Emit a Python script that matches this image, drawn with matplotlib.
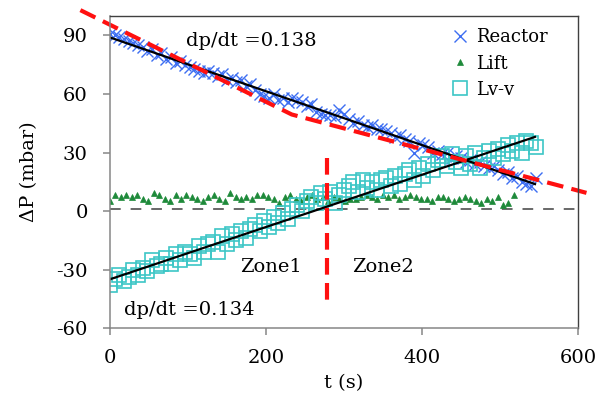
import numpy as np
import matplotlib
matplotlib.use("Agg")
import matplotlib.pyplot as plt

plt.rcParams['font.family'] = ['DejaVu Serif']
plt.rcParams['axes.unicode_minus'] = False

# reactor pressure drop (mbar) vs time (s)
t_reactor = [0, 6, 12, 18, 24, 30, 36, 42, 48, 54, 60, 66, 72, 78, 84, 90, 96, 102, 108,
             114, 120, 126, 132, 138, 144, 150, 156, 162, 168, 174, 180, 186, 192, 198,
             204, 210, 216, 222, 228, 234, 240, 246, 252, 258, 264, 270, 276, 282, 288,
             294, 300, 306, 312, 318, 324, 330, 336, 342, 348, 354, 360, 366, 372, 378,
             384, 390, 396, 402, 408, 414, 420, 426, 432, 438, 444, 450, 456, 462, 468,
             474, 480, 486, 492, 498, 504, 510, 516, 522, 528, 534, 540, 546]
p_reactor = [91, 90, 89, 88, 87, 86, 85, 84, 82, 83, 80, 81, 78, 79, 76, 77, 75, 74, 73,
             72, 71, 72, 71, 69, 70, 67, 68, 66, 67, 64, 65, 62, 60, 59,
             58, 60, 57, 58, 56, 58, 57, 56, 54, 55, 51, 50, 49, 49, 48,
             52, 50, 47, 45, 46, 44, 43, 44, 42, 42, 41, 40, 38, 39, 37,
             36, 30, 35, 34, 33, 30, 31, 29, 30, 27, 28, 27, 25, 26, 24,
             25, 23, 22, 23, 21, 19, 20, 17, 18, 15, 14, 13, 17]

t_lift = [0, 7, 14, 21, 28, 35, 42, 49, 56, 63, 70, 77, 84, 91, 98, 105, 112, 119, 126,
          133, 140, 147, 154, 161, 168, 175, 182, 189, 196, 203, 210, 217, 224, 231, 238,
          245, 252, 259, 266, 273, 280, 287, 294, 301, 308, 315, 322, 329, 336, 343, 350,
          357, 364, 371, 378, 385, 392, 399, 406, 413, 420, 427, 434, 441, 448, 455, 462,
          469, 476, 483, 490, 497, 504, 511, 518]
p_lift = [5, 8, 7, 8, 7, 8, 6, 5, 9, 8, 6, 5, 8, 6, 8, 7, 6, 5, 7,
          8, 6, 5, 9, 7, 6, 7, 6, 8, 8, 7, 6, 4, 7, 8, 6,
          5, 7, 8, 6, 7, 5, 7, 6, 5, 6, 6, 7, 8, 7, 6, 8,
          7, 8, 6, 7, 8, 7, 6, 6, 5, 7, 7, 6, 5, 6, 7, 6,
          5, 4, 6, 5, 7, 3, 4, 8]

t_lvv = t_reactor
p_lvv = [-38, -35, -33, -36, -34, -30, -33, -29, -31, -25, -28, -27, -24, -27, -22, -25,
         -21, -22, -24, -18, -21, -17, -16, -21, -13, -17, -12, -15, -10, -14, -9, -7,
         -10, -5, -8, -3, -6, -1, -4, 1, 3, 0, 5, 7, 4, 9, 6, 10, 4, 8, 11, 13, 15, 10,
         16, 12, 15, 11, 16, 17, 13, 18, 14, 19, 21, 16, 22, 18, 24, 21, 26, 28, 23, 29,
         25, 22, 28, 24, 30, 22, 27, 31, 27, 32, 29, 34, 31, 35, 30, 36, 35, 33]

# linear fits (end points) and zone guide lines
fit_reactor_t = [0, 545]
fit_reactor_p = [89, 13.8]
fit_lvv_t = [0, 545]
fit_lvv_p = [-35, 38]
guide_t = [-38, 233, 611]
guide_p = [103, 49.5, 9.3]
zone_t = [278, 278]
zone_p = [27.4, -47]
zero_t = [0, 600]
zero_p = [1, 1]

fig = plt.figure(figsize=(5.97, 3.96), dpi=100)
ax = fig.add_axes([0.1843, 0.1717, 0.968 - 0.1843, 0.9596 - 0.1717])

ax.plot(zero_t, zero_p, color='#404040', lw=1.1, dashes=(7, 6.5))
ax.plot(t_reactor, p_reactor, 'x', color='#3d6ef2', ms=8.5, mew=1.0, label='Reactor')
ax.plot(t_lift, p_lift, '^', color='#1e8a3a', ms=4.5, mew=0.5, label='Lift')
ax.plot(t_lvv, p_lvv, 's', mfc='none', mec='#3cc6c6', ms=10.5, mew=1.2, label='Lv-v')
ax.plot(fit_reactor_t, fit_reactor_p, color='black', lw=1.6)
ax.plot(fit_lvv_t, fit_lvv_p, color='black', lw=1.6)
ax.plot(guide_t, guide_p, color='#ff1010', lw=3, dashes=(4, 2), clip_on=False)
ax.plot(zone_t, zone_p, color='#ff1010', lw=3, dashes=(4, 2))

fs = 14
ax.text(97, 87, 'dp/dt =0.138', fontsize=fs, va='center')
ax.text(18, -51, 'dp/dt =0.134', fontsize=fs, va='center')
ax.text(167, -28.5, 'Zone1', fontsize=fs, va='center')
ax.text(310, -28.5, 'Zone2', fontsize=fs, va='center')

ax.set_xlim(0, 600)
ax.set_ylim(-60, 100)
ax.set_xticks([0, 200, 400, 600])
ax.set_yticks([-60, -30, 0, 30, 60, 90])
ax.tick_params(labelsize=fs, length=5, width=1.1, color='#868686')
ax.tick_params(axis='x', pad=10)
ax.tick_params(axis='y', pad=11)
ax.set_xlabel('t (s)', fontsize=fs, labelpad=5)
ax.set_ylabel('ΔP (mbar)', fontsize=fs, labelpad=13)

for s in ['left', 'bottom']:
    ax.spines[s].set_color('#868686')
    ax.spines[s].set_linewidth(1.1)
for s in ['top', 'right']:
    ax.spines[s].set_color('#404040')
    ax.spines[s].set_linewidth(1.0)

ax.legend(loc='upper right', frameon=False, fontsize=13, handlelength=1.0,
          handletextpad=0.4, labelspacing=0.45, borderaxespad=0.2,
          bbox_to_anchor=(0.958, 0.995))

fig.savefig('out.png', dpi=100)
